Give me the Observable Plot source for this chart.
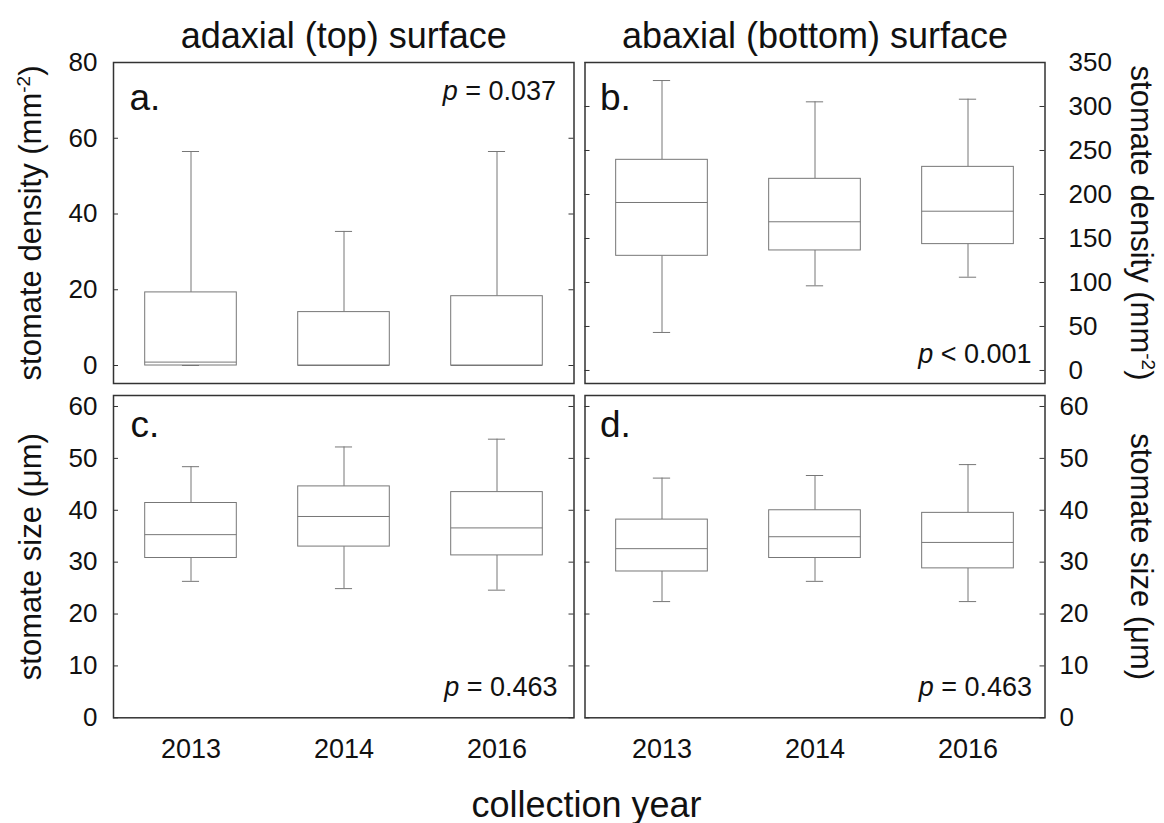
<!DOCTYPE html>
<html><head><meta charset="utf-8">
<script src="https://cdn.jsdelivr.net/npm/d3@7"></script>
<script src="https://cdn.jsdelivr.net/npm/@observablehq/plot@0.6"></script>
<style>
body{margin:0;background:#fff;}
#fig{position:relative;width:1164px;height:823px;font-family:"Liberation Sans",Arial,sans-serif;}
#fig svg{position:absolute;overflow:visible;}
</style></head><body><div id="fig"></div>
<script>
const years = ["2013", "2014", "2016"];
// five-number summaries per year: [min, q1, median, q3, max]
const adaxialDensity = [[0, 0, 0.9, 19.3, 56.5], [0, 0, 0, 14.1, 35.4], [0, 0, 0, 18.3, 56.5]];
const abaxialDensity = [[43.2, 130.3, 190.9, 239.4, 329.5], [96.2, 136.4, 169, 217.8, 305.3], [106, 143.6, 181, 231.4, 308.3]];
const adaxialSize = [[26.3, 30.8, 35.3, 41.4, 48.4], [24.9, 33.0, 38.8, 44.6, 52.2], [24.6, 31.3, 36.6, 43.5, 53.7]];
const abaxialSize = [[22.4, 28.2, 32.6, 38.2, 46.2], [26.3, 30.8, 34.9, 40.0, 46.7], [22.4, 28.8, 33.8, 39.5, 48.8]];
const densityTopTicks = [0, 20, 40, 60, 80];
const densityBottomTicks = [0, 50, 100, 150, 200, 250, 300, 350];
const sizeTicks = [0, 10, 20, 30, 40, 50, 60];
const panelLetters = ["a.", "b.", "c.", "d."];
const pLabels = ["p = 0.037", "p < 0.001", "p = 0.463", "p = 0.463"];
const columnTitles = ["adaxial (top) surface", "abaxial (bottom) surface"];
const densityLabel = "stomate density (mm-2)";
const sizeLabel = "stomate size (μm)";
const xLabel = "collection year";

const FONT = '"Liberation Sans", Arial, sans-serif';
const BOX = "#777";
const DARK = "#333";
const TXT = "#111";

function rowsOf(stats) {
  return years.map((year, i) => ({year, min: stats[i][0], q1: stats[i][1], med: stats[i][2], q3: stats[i][3], max: stats[i][4]}));
}

function panel(cfg) {
  const rows = rowsOf(cfg.stats);
  const fw = cfg.width - cfg.ml - cfg.mr;
  const band = fw / years.length;
  const boxInset = band * 0.2;
  const capInset = (band - 17.6) / 2;
  const marks = [
    Plot.ruleY(cfg.ticks, {y: d => d, insetRight: fw - 5, stroke: DARK}),
    Plot.ruleY(cfg.ticks, {y: d => d, insetLeft: fw - 5, stroke: DARK}),
    Plot.ruleX(rows, {x: "year", y1: "min", y2: "q1", stroke: BOX}),
    Plot.ruleX(rows, {x: "year", y1: "q3", y2: "max", stroke: BOX}),
    Plot.tickY(rows, {x: "year", y: "min", insetLeft: capInset, insetRight: capInset, stroke: BOX}),
    Plot.tickY(rows, {x: "year", y: "max", insetLeft: capInset, insetRight: capInset, stroke: BOX}),
    Plot.barY(rows, {x: "year", y1: "q1", y2: "q3", fill: "white", stroke: BOX, insetLeft: boxInset, insetRight: boxInset}),
    Plot.tickY(rows, {x: "year", y: "med", insetLeft: boxInset, insetRight: boxInset, stroke: BOX}),
    Plot.axisY(cfg.ticks, {anchor: cfg.axisSide, tickSize: 0, tickPadding: cfg.tickPad, fontSize: 26, label: null, fill: TXT}),
    Plot.text([cfg.letter], {text: d => d, frameAnchor: "top-left", dx: cfg.letterDx, dy: cfg.letterDy, textAnchor: "start", lineAnchor: "middle", fontSize: 37, fill: TXT}),
    Plot.text([cfg.p], {text: d => d, frameAnchor: cfg.pAnchor, dx: cfg.pDx, dy: cfg.pDy, textAnchor: "end", lineAnchor: "middle", fontSize: 27, fill: TXT}),
    Plot.text([cfg.yLabel], {text: d => d, frameAnchor: cfg.axisSide, dx: cfg.yLabelDx, rotate: cfg.axisSide === "left" ? -90 : 90, textAnchor: "middle", lineAnchor: "middle", fontSize: 31, fill: TXT})
  ];
  if (cfg.title) marks.push(Plot.text([cfg.title], {text: d => d, frameAnchor: "top", dy: -25.8, textAnchor: "middle", lineAnchor: "middle", fontSize: 36, fill: TXT}));
  if (cfg.xAxis) marks.push(Plot.axisX({anchor: "bottom", tickSize: 0, tickPadding: 20.8, fontSize: 27, label: null, fill: TXT}));
  if (cfg.xTitle) marks.push(Plot.text([cfg.xTitle], {text: d => d, frameAnchor: "bottom-right", dx: 12.5, dy: 87.9, textAnchor: "middle", lineAnchor: "middle", fontSize: 36, fill: TXT}));
  marks.push(Plot.frame({stroke: DARK, strokeWidth: 1.5}));
  const svg = Plot.plot({
    width: cfg.width, height: cfg.height,
    marginLeft: cfg.ml, marginRight: cfg.mr, marginTop: cfg.mt, marginBottom: cfg.mb,
    x: {type: "band", domain: years, padding: 0, axis: null},
    y: {domain: cfg.domain, axis: null},
    style: {background: "transparent", overflow: "visible", fontFamily: FONT, color: TXT},
    marks
  });
  svg.style.left = cfg.left + "px";
  svg.style.top = cfg.top + "px";
  enrich(svg);
  document.getElementById("fig").appendChild(svg);
}

function enrich(svg) {
  d3.select(svg).selectAll("text").each(function () {
    const t = this.textContent;
    const s = d3.select(this);
    if (t.startsWith("p ") && t.length > 3) {
      this.textContent = "";
      s.append("tspan").attr("font-style", "italic").text("p");
      s.append("tspan").text(t.slice(1));
    } else if (t.endsWith("-2)")) {
      this.textContent = "";
      s.append("tspan").text(t.slice(0, -3));
      s.append("tspan").attr("font-size", "19px").attr("dy", "-11").text("-2");
      s.append("tspan").attr("dy", "11").text(")");
    }
  });
}

panel({stats: adaxialDensity, ticks: densityTopTicks, domain: [-4.75, 80], left: 0, top: 0, width: 579, height: 389,
  ml: 113, mr: 5.5, mt: 62, mb: 6, axisSide: "left", tickPad: 16, letter: panelLetters[0], letterDx: 16, letterDy: 35.2,
  p: pLabels[0], pAnchor: "top-right", pDx: -18, pDy: 28.7, yLabel: densityLabel, yLabelDx: -82, title: columnTitles[0]});
panel({stats: abaxialDensity, ticks: densityBottomTicks, domain: [-14.8, 350], left: 579, top: 0, width: 585, height: 389,
  ml: 5.5, mr: 119.5, mt: 62, mb: 6, axisSide: "right", tickPad: 23.5, letter: panelLetters[1], letterDx: 15, letterDy: 35.2,
  p: pLabels[1], pAnchor: "bottom-right", pDx: -13.5, pDy: -29.2, yLabel: densityLabel, yLabelDx: 95.8, title: columnTitles[1]});
panel({stats: adaxialSize, ticks: sizeTicks, domain: [0, 62.12], left: 0, top: 389, width: 579, height: 434,
  ml: 113, mr: 5.5, mt: 6, mb: 105.7, axisSide: "left", tickPad: 16, letter: panelLetters[2], letterDx: 17, letterDy: 29.9,
  p: pLabels[2], pAnchor: "bottom-right", pDx: -16.5, pDy: -30, yLabel: sizeLabel, yLabelDx: -82, xAxis: true, xTitle: xLabel});
panel({stats: abaxialSize, ticks: sizeTicks, domain: [0, 62.12], left: 579, top: 389, width: 585, height: 434,
  ml: 5.5, mr: 119.5, mt: 6, mb: 105.7, axisSide: "right", tickPad: 14.5, letter: panelLetters[3], letterDx: 15, letterDy: 29.9,
  p: pLabels[3], pAnchor: "bottom-right", pDx: -13, pDy: -30, yLabel: sizeLabel, yLabelDx: 95.8, xAxis: true});
</script></body></html>
